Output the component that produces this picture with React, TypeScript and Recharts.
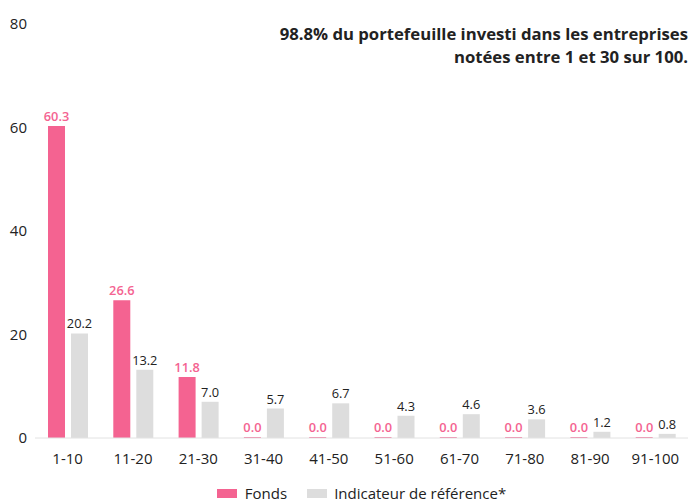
import React from "react";
import { BarChart, Bar, XAxis, YAxis, LabelList } from "recharts";

const categories = ["1-10", "11-20", "21-30", "31-40", "41-50", "51-60", "61-70", "71-80", "81-90", "91-100"];
const fonds = [60.3, 26.6, 11.8, 0.0, 0.0, 0.0, 0.0, 0.0, 0.0, 0.0];
const reference = [20.2, 13.2, 7.0, 5.7, 6.7, 4.3, 4.6, 3.6, 1.2, 0.8];
const yTicks = [0, 20, 40, 60, 80];
const titleLines = [
  "98.8% du portefeuille investi dans les entreprises",
  "notées entre 1 et 30 sur 100.",
];
const seriesNames = ["Fonds", "Indicateur de référence*"];

const PINK = "#F46391";
const GREY = "#DDDDDD";
const TEXT = "#222222";
const FONT = "'Open Sans', sans-serif";

const data = categories.map((c, i) => ({ cat: c, fonds: fonds[i], reference: reference[i] }));

const fmt = (v: any) => Number(v).toFixed(1);

export default function App() {
  return (
    <div style={{ position: "absolute", left: 0, top: 0, width: 688, height: 502, fontFamily: FONT, overflow: "hidden" }}>
      <BarChart
        width={688}
        height={502}
        data={data}
        margin={{ top: 24, right: 0, left: 0, bottom: 0 }}
        barSize={17}
        barGap={6}
      >
        <XAxis
          dataKey="cat"
          height={64}
          tickLine={false}
          axisLine={{ stroke: "#E2E2E2" }}
          tickMargin={9}
          tick={{ fill: TEXT, fontSize: 15, fontFamily: FONT }}
          interval={0}
        />
        <YAxis
          width={35}
          domain={[0, 80]}
          ticks={yTicks}
          tickLine={false}
          axisLine={false}
          tick={{ fill: TEXT, fontSize: 15, fontFamily: FONT }}
        />
        <Bar dataKey="fonds" fill={PINK} isAnimationActive={false} minPointSize={1}>
          <LabelList
            dataKey="fonds"
            position="top"
            formatter={fmt}
            style={{ fill: PINK, fontSize: 12.8, fontWeight: 600, fontFamily: FONT }}
          />
        </Bar>
        <Bar dataKey="reference" fill={GREY} isAnimationActive={false}>
          <LabelList
            dataKey="reference"
            position="top"
            formatter={fmt}
            style={{ fill: TEXT, fontSize: 12.8, fontFamily: FONT }}
          />
        </Bar>
      </BarChart>
      <div
        style={{
          position: "absolute",
          right: 0,
          top: 22,
          textAlign: "right",
          fontSize: 16.7,
          fontWeight: 700,
          lineHeight: "23px",
          color: TEXT,
          whiteSpace: "nowrap",
        }}
      >
        {titleLines.map((l) => (
          <div key={l}>{l}</div>
        ))}
      </div>
      <div
        style={{
          position: "absolute",
          left: 35,
          width: 653,
          top: 483,
          display: "flex",
          justifyContent: "center",
          alignItems: "center",
          fontSize: 15,
          lineHeight: "20px",
          color: TEXT,
          whiteSpace: "nowrap",
        }}
      >
        {seriesNames.map((n, i) => (
          <div key={n} style={{ display: "flex", alignItems: "center", marginLeft: i ? 20 : 0 }}>
            <span style={{ display: "inline-block", width: 20, height: 9, background: i ? GREY : PINK, marginRight: i ? 7 : 8 }} />
            <span>{n}</span>
          </div>
        ))}
      </div>
    </div>
  );
}
